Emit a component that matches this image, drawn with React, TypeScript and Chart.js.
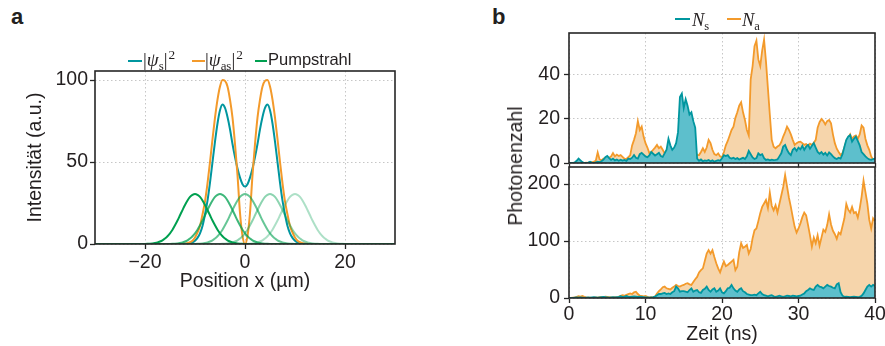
import React, { useEffect, useRef } from 'react';
import { Chart, registerables } from 'chart.js';

Chart.register(...registerables);

const FONT = '"Liberation Sans", Arial, Helvetica, sans-serif';
const SERIF = '"Liberation Serif", "DejaVu Serif", serif';
const TEXT = '#231f20';
const TEAL = '#00969f';
const ORANGE = '#f39a2b';
const TEAL_FILL = '#5dbfcc';
const ORANGE_FILL = '#f6d5ab';
const GREEN = '0,160,80';
const PUMP_ALPHA = [1, 0.76, 0.6, 0.45, 0.32];

// ---------- panel a ----------
const positionX = [-30, -13, -12.5, -12, -11.5, -11, -10.5, -10, -9.5, -9, -8.5, -8, -7.5, -7, -6.5, -6, -5.5, -5,
  -4.5, -4, -3.5, -3, -2.5, -2, -1.5, -1, -0.5, 0, 0.5, 1, 1.5, 2, 2.5, 3, 3.5, 4, 4.5, 5, 5.5, 6, 6.5, 7, 7.5,
  8, 8.5, 9, 9.5, 10, 10.5, 11, 11.5, 12, 12.5, 13, 30];
const psiS = [0, 0, 0, 0.1, 0.2, 0.5, 1, 2, 3.7, 6.5, 11, 18, 26.5, 37.5, 50, 62.5, 73.5, 81.5, 85, 83, 77.5, 70, 61,
  53, 46, 40.5, 36.5, 35, 36.5, 40.5, 46, 53, 61, 70, 77.5, 83, 85, 81.5, 73.5, 62.5, 50, 37.5, 26.5, 18, 11, 6.5,
  3.7, 2, 1, 0.5, 0.2, 0.1, 0, 0, 0];
const psiAs = [0, 0, 0.1, 0.2, 0.5, 1.1, 2, 4, 7, 11, 18, 26, 37, 50, 64, 77, 88, 96, 100, 99.5, 96, 88, 77, 61, 42,
  19, 5, 0, 5, 19, 42, 61, 77, 88, 96, 99.5, 100, 96, 88, 77, 64, 50, 37, 26, 18, 11, 7, 4, 2, 1.1, 0.5, 0.2, 0.1,
  0, 0];
const pumpCenters = [-10, -5, 0, 5, 10];
const pumpOffsets = [-10, -9.5, -9, -8.5, -8, -7.5, -7, -6.5, -6, -5.5, -5, -4.5, -4, -3.5, -3, -2.5, -2, -1.5, -1,
  -0.5, 0, 0.5, 1, 1.5, 2, 2.5, 3, 3.5, 4, 4.5, 5, 5.5, 6, 6.5, 7, 7.5, 8, 8.5, 9, 9.5, 10];
const pumpProfile = [0.05, 0.1, 0.2, 0.35, 0.6, 0.95, 1.5, 2.25, 3.3, 4.7, 6.5, 8.7, 11.4, 14.3, 17.5, 20.7, 23.8,
  26.5, 28.7, 30.0, 30.5, 30.0, 28.7, 26.5, 23.8, 20.7, 17.5, 14.3, 11.4, 8.7, 6.5, 4.7, 3.3, 2.25, 1.5, 0.95, 0.6,
  0.35, 0.2, 0.1, 0.05];
const positionTicks = [-20, 0, 20];
const intensityTicks = [0, 50, 100];

// ---------- panel b ----------
const timeNs = Array.from({ length: 161 }, (_, i) => i * 0.25);
const topNs = [
  0, 0, 0, 0.3, 1, 2, 1.2, 0.4,
  0, 0, 0.2, 0.6, 0.2, 0, 0.3, 0.6,
  0.4, 0.8, 1.5, 2.6, 3.2, 2.2, 1.4, 2.0,
  1.2, 1.6, 1.0, 1.5, 1.1, 1.4, 1.0, 2.0,
  1.8, 2.4, 3.6, 2.4, 2.0, 4.0, 4.6, 3.8,
  3.0, 2.6, 3.4, 5.0, 4.2, 3.4, 4.0, 4.6,
  3.2, 2.8, 4.4, 6.0, 11.0, 8.0, 6.0, 7.0,
  9.0, 14.0, 30.0, 31.5, 25.0, 29.0, 26.0, 22.0,
  23.0, 19.0, 16.0, 2.0, 1.0, 1.6, 0.8, 1.2,
  1.0, 1.4, 0.8, 1.2, 0.6, 1.0, 1.3, 1.0,
  2.2, 3.6, 3.2, 3.6, 2.4, 2.0, 2.4, 1.8,
  2.2, 1.6, 2.0, 2.4, 1.8, 3.0, 5.5, 4.0,
  2.5, 1.8, 2.2, 4.4, 3.6, 4.0, 2.2, 1.4,
  1.6, 1.2, 1.5, 1.3, 1.4, 1.6, 3.0, 4.4,
  7.5, 8.2, 6.0, 4.5, 3.6, 6.0, 6.8, 5.5,
  7.0, 6.2, 7.8, 6.0, 7.4, 8.2, 6.5, 7.8,
  9.0, 7.0, 5.0, 4.2, 5.0, 3.8, 4.6, 3.4,
  4.8, 4.0, 3.0, 2.2, 1.8, 2.4, 2.0, 4.0,
  7.4, 10.5, 12.0, 12.7, 9.7, 11.0, 12.0, 10.0,
  8.0, 5.0, 4.0, 3.0, 2.2, 1.6, 1.4, 1.8,
  2.0,
];
const topNa = [
  0, 0, 0, 0.2, 0.5, 0.6, 0.3, 0,
  0, 0.2, 0, 0.4, 0.3, 0.6, 1.0, 4.8,
  1.6, 1.2, 2.0, 1.6, 2.2, 2.4, 3.0, 4.5,
  3.0, 3.8, 3.2, 3.6, 2.8, 2.0, 1.8, 2.6,
  3.6, 8.0, 10.5, 13.5, 19.0, 15.0, 16.5, 12.0,
  9.0, 7.0, 4.5, 5.0, 6.0, 7.0, 8.2, 6.7,
  7.4, 6.0, 4.4, 5.5, 6.0, 5.0, 5.0, 6.0,
  6.5, 7.0, 8.0, 9.0, 8.0, 9.0, 7.0, 8.0,
  6.0, 7.0, 5.0, 3.6, 3.6, 5.0, 6.7, 5.0,
  7.0, 10.5, 9.0, 6.0, 4.0, 3.6, 4.4, 3.0,
  2.5, 5.0, 8.0, 10.0, 12.5, 15.0, 16.5, 20.5,
  23.0, 26.0, 27.5, 23.0, 19.5, 15.0, 12.5, 38.0,
  44.0, 53.0, 55.5, 47.0, 44.0, 51.0, 56.0, 46.0,
  34.0, 22.0, 10.5, 7.4, 6.7, 7.5, 8.0, 9.5,
  12.0, 14.0, 16.5, 15.0, 13.0, 10.5, 8.2, 9.0,
  9.5, 9.7, 9.0, 8.2, 8.6, 7.8, 8.8, 8.2,
  9.2, 10.5, 16.0, 18.5, 20.0, 19.0, 17.5, 19.0,
  19.5, 18.0, 13.0, 9.0, 6.5, 5.0, 3.6, 4.5,
  7.0, 10.0, 11.5, 13.0, 11.0, 12.0, 12.5, 11.0,
  13.0, 17.0, 16.0, 11.0, 8.0, 6.0, 3.0, 1.5,
  0.5,
];
const bottomNs = [
  0, 0, 0, 0.5, 1, 0.5, 1, 0.5,
  0, 0.5, 1, 0.5, 1, 1.5, 1, 0.5,
  1, 1.5, 2, 1.5, 1, 0.5, 1, 1.5,
  1, 1.5, 2, 3, 2, 2.5, 3.5, 2.5,
  2, 2.5, 3, 2.5, 2, 2.5, 2, 1.5,
  1, 1, 0.5, 1, 1.5, 2.5, 5, 7,
  7, 8, 9, 7, 8, 7, 10, 12,
  20, 17, 11, 12, 12, 11, 10, 14,
  17, 11, 13, 14, 10, 9, 14, 16,
  20, 14, 11, 15, 17, 11, 13, 17,
  10, 8, 12, 17, 18, 23, 17, 13,
  11, 15, 17, 12, 10, 7, 6, 5,
  5, 6, 5, 8, 11, 7, 5, 4,
  3, 4, 5, 3, 2, 3, 4, 3,
  2, 3, 4, 3.5, 3, 4, 3.5, 3,
  3.5, 4, 6, 8, 12, 14, 17, 15,
  14, 20, 23, 20, 19, 17, 20, 23,
  21, 20, 18, 17, 24, 26, 10, 4,
  2, 2.5, 2, 1.5, 2, 2.5, 2, 1.5,
  2, 4, 8, 14, 20, 23, 20, 23,
  21,
];
const bottomNa = [
  0, 0, 0.5, 1, 2, 3, 2.5, 3.5,
  2, 1, 0.5, 0.5, 0, 0.5, 1, 0.5,
  1.5, 2, 1.5, 2.5, 2, 1.5, 1, 1,
  1.5, 1, 2, 4, 5, 4, 5.5, 7,
  8, 7, 10, 11, 7, 4, 3.5, 3,
  3.5, 2, 1, 1.5, 1, 2.5, 8, 12,
  15, 19, 20, 17, 16, 15, 18, 20,
  23, 21, 20, 22, 23, 25, 26, 24,
  23, 28, 33, 37, 45, 49, 52, 65,
  78, 84, 78, 84, 72, 61, 52, 45,
  55, 64, 56, 58, 61, 64, 67, 49,
  55, 80, 96, 88, 90, 93, 78, 86,
  105, 119, 122, 135, 149, 160, 166, 172,
  158, 185, 162, 154, 163, 150, 165, 180,
  195, 216, 196, 176, 160, 142, 125, 115,
  122, 131, 142, 150, 145, 128, 110, 90,
  106, 96, 110, 92, 106, 120, 116, 128,
  147, 129, 118, 112, 104, 115, 112, 126,
  140, 165, 155, 150, 160, 149, 151, 141,
  157, 178, 206, 186, 166, 137, 122, 140,
  135,
];
const timeTicks = [0, 10, 20, 30, 40];
const topCountTicks = [0, 20, 40];
const bottomCountTicks = [0, 100, 200];

Chart.defaults.font.family = FONT;
Chart.defaults.color = TEXT;

const framePlugin = {
  id: 'frame',
  afterDatasetsDraw(chart: any) {
    const { ctx, chartArea: a } = chart;
    ctx.save();
    ctx.strokeStyle = '#262626';
    ctx.lineWidth = 1.6;
    ctx.strokeRect(a.left, a.top, a.right - a.left, a.bottom - a.top);
    ctx.restore();
  },
};

const fmt = (v: number) => (v < 0 ? '\u2212' + Math.abs(v) : String(v));

function axis(opts: {
  min: number; max: number; ticks: number[]; size: number; showLabels?: boolean; pad: number;
  title?: string; titlePad?: { top: number; bottom: number };
}) {
  const { min, max, ticks, size, showLabels = true, pad, title, titlePad } = opts;
  return {
    type: 'linear',
    min,
    max,
    afterBuildTicks: (s: any) => { s.ticks = ticks.map((v) => ({ value: v })); },
    afterFit: (s: any) => {
      if (s.isHorizontal()) s.height = size; else s.width = size;
      s.paddingTop = 0;
      s.paddingBottom = 0;
      s.paddingLeft = 0;
      s.paddingRight = 0;
    },
    ticks: {
      display: showLabels,
      font: { size: 19.5 },
      color: TEXT,
      padding: pad,
      callback: (v: any) => fmt(Number(v)),
    },
    grid: {
      color: '#c6c6c6',
      lineWidth: 1,
      drawTicks: true,
      tickLength: 5,
      tickColor: '#262626',
      tickWidth: 1.3,
      tickBorderDash: [],
    },
    border: { display: false, dash: [1.5, 2.5] },
    title: title
      ? { display: true, text: title, font: { size: 19.5 }, color: TEXT, padding: titlePad }
      : { display: false },
  };
}

function ChartCanvas({ left, top, width, height, make }: {
  left: number; top: number; width: number; height: number; make: () => any;
}) {
  const ref = useRef<HTMLCanvasElement>(null);
  useEffect(() => {
    const chart = new Chart(ref.current as HTMLCanvasElement, make());
    return () => chart.destroy();
  }, []);
  return (
    <canvas
      ref={ref}
      width={width}
      height={height}
      style={{ position: 'absolute', left, top, width, height }}
    />
  );
}

const baseOptions = {
  responsive: false,
  animation: false,
  devicePixelRatio: 1,
  events: [],
  plugins: { legend: { display: false }, tooltip: { enabled: false } },
};

function makePanelA() {
  const pumpSets = pumpCenters.map((c, k) => ({
    data: [{ x: -30, y: 0 }, ...pumpOffsets.map((o, i) => ({ x: c + o, y: pumpProfile[i] })), { x: 30, y: 0 }],
    borderColor: `rgba(${GREEN},${PUMP_ALPHA[k]})`,
    borderWidth: 2,
    pointRadius: 0,
    cubicInterpolationMode: 'monotone',
    fill: false,
  }));
  return {
    type: 'line',
    data: {
      datasets: [
        ...pumpSets,
        {
          data: positionX.map((x, i) => ({ x, y: psiAs[i] })),
          borderColor: ORANGE, borderWidth: 2, pointRadius: 0, cubicInterpolationMode: 'monotone', fill: false,
        },
        {
          data: positionX.map((x, i) => ({ x, y: psiS[i] })),
          borderColor: TEAL, borderWidth: 2, pointRadius: 0, cubicInterpolationMode: 'monotone', fill: false,
        },
      ],
    },
    options: {
      ...baseOptions,
      layout: { padding: { left: 0, right: 25, top: 71, bottom: 0 } },
      scales: {
        x: axis({ min: -30, max: 30, ticks: positionTicks, size: 56, pad: 2, title: 'Position x (µm)', titlePad: { top: 0, bottom: 7 } }),
        y: axis({ min: 0, max: 105.5, ticks: intensityTicks, size: 95, pad: 2, title: 'Intensität (a.u.)', titlePad: { top: 24, bottom: 0 } }),
      },
    },
    plugins: [framePlugin],
  };
}

function makePanelB(ns: number[], na: number[], bottom: boolean) {
  return {
    type: 'line',
    data: {
      datasets: [
        {
          data: timeNs.map((x, i) => ({ x, y: ns[i] })),
          borderColor: TEAL, backgroundColor: TEAL_FILL, borderWidth: 1.8, pointRadius: 0, tension: 0, fill: 'origin',
        },
        {
          data: timeNs.map((x, i) => ({ x, y: na[i] })),
          borderColor: ORANGE, backgroundColor: ORANGE_FILL, borderWidth: 1.8, pointRadius: 0, tension: 0, fill: 'origin',
        },
      ],
    },
    options: {
      ...baseOptions,
      layout: { padding: { left: 0, right: 10, top: bottom ? 7 : 33, bottom: 0 } },
      scales: {
        x: bottom
          ? axis({ min: 0, max: 40, ticks: timeTicks, size: 48, pad: 0, title: 'Zeit (ns)', titlePad: { top: 0, bottom: 0 } })
          : axis({ min: 0, max: 40, ticks: timeTicks, size: 12, pad: 0, showLabels: false }),
        y: bottom
          ? axis({ min: 0, max: 230, ticks: bottomCountTicks, size: 89, pad: 4 })
          : axis({ min: 0, max: 59, ticks: topCountTicks, size: 89, pad: 4 }),
      },
    },
    plugins: [framePlugin],
  };
}

const abs = (left: number, top: number, extra: React.CSSProperties = {}): React.CSSProperties => ({
  position: 'absolute', left, top, whiteSpace: 'nowrap', ...extra,
});

const sub: React.CSSProperties = { fontSize: '0.68em', verticalAlign: '-0.28em', lineHeight: 0, fontStyle: 'normal' };
const sup: React.CSSProperties = { fontSize: '0.7em', verticalAlign: '0.55em', lineHeight: 0, marginLeft: 1 };

function Swatch({ left, top, width, color }: { left: number; top: number; width: number; color: string }) {
  return <div style={{ position: 'absolute', left, top, width, height: 2, background: color }} />;
}

export default function App() {
  return (
    <div style={{ position: 'absolute', left: 0, top: 0, width: 885, height: 346, background: '#fff', overflow: 'hidden', fontFamily: FONT, color: TEXT }}>
      <div style={abs(11, 4, { fontSize: 22, fontWeight: 700, lineHeight: '26px' })}>a</div>
      <div style={abs(492, 4, { fontSize: 22, fontWeight: 700, lineHeight: '26px' })}>b</div>

      <ChartCanvas left={0} top={0} width={420} height={300} make={makePanelA} />
      <ChartCanvas left={480} top={0} width={405} height={175} make={() => makePanelB(topNs, topNa, false)} />
      <ChartCanvas left={480} top={160} width={405} height={186} make={() => makePanelB(bottomNs, bottomNa, true)} />

      {/* legend a */}
      <Swatch left={128} top={60} width={14} color={TEAL} />
      <div style={abs(143, 50, { fontFamily: SERIF, fontSize: 19, lineHeight: '20px' })}>
        |<i>ψ</i><span style={sub}>s</span>|<span style={sup}>2</span>
      </div>
      <Swatch left={192} top={60} width={13} color={ORANGE} />
      <div style={abs(205, 50, { fontFamily: SERIF, fontSize: 19, lineHeight: '20px' })}>
        |<i>ψ</i><span style={sub}>as</span>|<span style={sup}>2</span>
      </div>
      <Swatch left={255} top={60} width={12} color={`rgb(${GREEN})`} />
      <div style={abs(268, 49, { fontSize: 16.5, lineHeight: '20px' })}>Pumpstrahl</div>

      {/* legend b */}
      <Swatch left={675} top={18} width={15} color={TEAL} />
      <div style={abs(692, 10, { fontFamily: SERIF, fontSize: 18.5, lineHeight: '20px' })}>
        <i>N</i><span style={sub}>s</span>
      </div>
      <Swatch left={727} top={18} width={14} color={ORANGE} />
      <div style={abs(742, 10, { fontFamily: SERIF, fontSize: 18.5, lineHeight: '20px' })}>
        <i>N</i><span style={sub}>a</span>
      </div>

      <div style={abs(515, 165.5, { fontSize: 19.5, lineHeight: '24px', transform: 'translate(-50%, -50%) rotate(-90deg)' })}>
        Photonenzahl
      </div>
    </div>
  );
}
